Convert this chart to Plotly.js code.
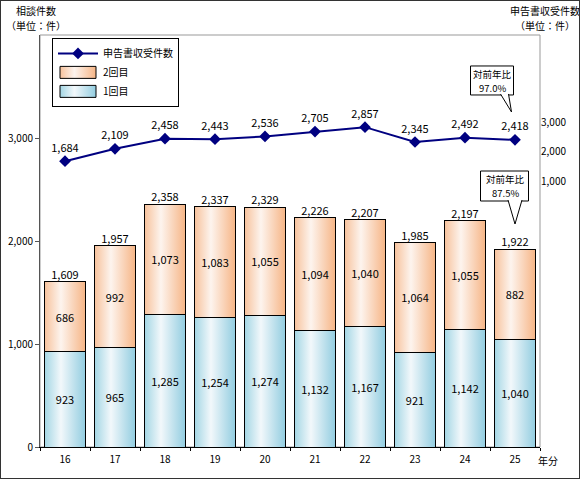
<!DOCTYPE html>
<html><head><meta charset="utf-8">
<script src="https://cdn.plot.ly/plotly-3.0.1.min.js"></script>
<style>
html,body{margin:0;padding:0;background:#fff;}
#chart{width:578px;height:477px;border:1px solid #333;}
</style></head>
<body><div id="chart"></div>
<script>
const years = ['16','17','18','19','20','21','22','23','24','25'];
const first = [923, 965, 1285, 1254, 1274, 1132, 1167, 921, 1142, 1040];
const second = [686, 992, 1073, 1083, 1055, 1094, 1040, 1064, 1055, 882];
const totals = [1609, 1957, 2358, 2337, 2329, 2226, 2207, 1985, 2197, 1922];
const filings = [1684, 2109, 2458, 2443, 2536, 2705, 2857, 2345, 2492, 2418];
const leftTicks = [0, 1000, 2000, 3000];
const rightTicks = [1000, 2000, 3000];

const F = 'Noto Sans CJK JP, DejaVu Sans, sans-serif';

const traces = [
  {type:'bar', name:'1回目', x:years, y:first, marker:{color:'#b5dfea', line:{color:'#000', width:1}},
   text:first, texttemplate:'%{y:,}', textposition:'inside', insidetextanchor:'middle', textangle:0,
   constraintext:'none', textfont:{family:F, size:11, color:'#000'}, hoverinfo:'skip'},
  {type:'bar', name:'2回目', x:years, y:second, marker:{color:'#f9cfae', line:{color:'#000', width:1}},
   text:second, texttemplate:'%{y:,}', textposition:'inside', insidetextanchor:'middle', textangle:0,
   constraintext:'none', textfont:{family:F, size:11, color:'#000'}, hoverinfo:'skip'},
  {type:'scatter', mode:'text', x:years, y:totals, text:totals, texttemplate:'%{y:,}',
   textposition:'top center', textfont:{family:F, size:11, color:'#000'}, showlegend:false, hoverinfo:'skip'},
  {type:'scatter', mode:'lines+markers+text', name:'申告書収受件数', x:years, y:filings, yaxis:'y2',
   line:{color:'#000080', width:2}, marker:{symbol:'diamond', size:9, color:'#000080'},
   text:filings, texttemplate:'%{y:,}', textposition:'top center', textfont:{family:F, size:11, color:'#000'},
   hoverinfo:'skip'}
];

const pix = {xsizemode:'pixel', ysizemode:'pixel', line:{color:'#000', width:1}, fillcolor:'#fff', layer:'above'};
const note = {showarrow:false, xanchor:'center', yanchor:'middle', font:{family:F, size:9.5}};

const layout = {
  width:578, height:477,
  margin:{l:39, r:39, t:34, b:31},
  paper_bgcolor:'#fff', plot_bgcolor:'#fff',
  font:{family:F, size:10, color:'#000'},
  barmode:'stack', bargap:0.18,
  showlegend:true,
  legend:{x:0.024, y:0.993, xanchor:'left', yanchor:'top', bordercolor:'#000', borderwidth:1,
          bgcolor:'#fff', traceorder:'reversed', font:{family:F, size:10}, itemwidth:40,
          tracegroupgap:0},
  xaxis:{type:'category', range:[-0.5, 9.5], showline:true, linecolor:'#000', linewidth:1, ticks:'outside', ticklen:3,
         tickson:'boundaries', tickcolor:'#000', showgrid:false, tickangle:0, ticklabelstandoff:3,
         tickfont:{family:F, size:10}, fixedrange:true},
  yaxis:{range:[0,4000], tickvals:leftTicks, tickformat:',', showline:true, linecolor:'#555', linewidth:1,
         ticks:'outside', ticklen:4, tickcolor:'#555', showgrid:false, zeroline:false, tickfont:{family:F, size:10}},
  yaxis2:{overlaying:'y', side:'right', range:[-8172, 6034], tickvals:rightTicks, tickformat:',',
          showline:false, showgrid:false, zeroline:false, ticks:'', tickfont:{family:F, size:10}},
  shapes:[
    {type:'rect', xref:'paper', yref:'paper', x0:0, x1:1, y0:0, y1:1, line:{color:'#999', width:1}, layer:'below'},
    Object.assign({type:'rect', xref:'x', yref:'y2', xanchor:9, yanchor:3380, x0:-44.5, x1:-1.5, y0:17, y1:46}, pix),
    Object.assign({type:'path', xref:'x', yref:'y2', xanchor:9, yanchor:3380, path:'M-14.5,18 L-3.5,0 L-6.5,18'}, pix),
    Object.assign({type:'rect', xref:'x', yref:'y', xanchor:9, yanchor:2165, x0:-34.5, x1:13.5, y0:23, y1:53}, pix),
    Object.assign({type:'path', xref:'x', yref:'y', xanchor:9, yanchor:2165, path:'M-7,24 L0,0 L7,24'}, pix)
  ],
  annotations:[
    {xref:'paper', yref:'paper', x:-0.008, y:1.059, xanchor:'center', yanchor:'middle', showarrow:false,
     text:'相談件数', font:{family:F, size:10}},
    {xref:'paper', yref:'paper', x:-0.008, y:1.024, xanchor:'center', yanchor:'middle', showarrow:false,
     text:'（単位：件）', font:{family:F, size:10}},
    {xref:'paper', yref:'paper', x:1.01, y:1.059, xanchor:'center', yanchor:'middle', showarrow:false,
     text:'申告書収受件数', font:{family:F, size:10}},
    {xref:'paper', yref:'paper', x:1.01, y:1.024, xanchor:'center', yanchor:'middle', showarrow:false,
     text:'（単位：件）', font:{family:F, size:10}},
    {xref:'paper', yref:'paper', x:1.016, y:-0.032, xanchor:'center', yanchor:'middle', showarrow:false,
     text:'年分', font:{family:F, size:10}},
    Object.assign({xref:'x', yref:'y2', x:9, y:3380, xshift:-23, yshift:38, text:'対前年比'}, note),
    Object.assign({xref:'x', yref:'y2', x:9, y:3380, xshift:-23, yshift:24, text:'97.0%'}, note),
    Object.assign({xref:'x', yref:'y', x:9, y:2165, xshift:-10, yshift:45, text:'対前年比'}, note),
    Object.assign({xref:'x', yref:'y', x:9, y:2165, xshift:-10, yshift:31, text:'87.5%'}, note)
  ]
};

function addGradients(gd){
  const svg = gd.querySelector('svg.main-svg');
  const NS = 'http://www.w3.org/2000/svg';
  let defs = svg.querySelector('defs');
  if(!defs){ defs = document.createElementNS(NS,'defs'); svg.insertBefore(defs, svg.firstChild); }
  const mk = (id, stops) => {
    const g = document.createElementNS(NS,'linearGradient');
    g.setAttribute('id', id); g.setAttribute('x1','0'); g.setAttribute('x2','1'); g.setAttribute('y1','0'); g.setAttribute('y2','0');
    stops.forEach(([o,c]) => { const s=document.createElementNS(NS,'stop'); s.setAttribute('offset',o); s.setAttribute('stop-color',c); g.appendChild(s); });
    defs.appendChild(g);
  };
  mk('gBlue', [['0','#a3d6e4'],['0.4','#f2f8fb'],['1','#92cde0']]);
  mk('gOrange', [['0','#f7c29c'],['0.4','#fdf4ee'],['1','#f6b586']]);
  const bars = gd.querySelectorAll('.barlayer .trace');
  bars.forEach((t,i) => {
    t.querySelectorAll('.point path').forEach(p => p.style.fill = i===0 ? 'url(#gBlue)' : 'url(#gOrange)');
  });
  const legItems = gd.querySelectorAll('.legend .traces');
  legItems.forEach(it => {
    const name = it.textContent;
    it.querySelectorAll('.legendpoints path').forEach(p => {
      const isBlue = name.indexOf('1回目')>=0, isOr = name.indexOf('2回目')>=0;
      if(isBlue || isOr){
        p.setAttribute('d','M-18,-6H18V6H-18Z');
        p.style.fill = isBlue ? 'url(#gBlue)' : 'url(#gOrange)';
        p.style.stroke = '#000'; p.style.strokeWidth = '1px';
      }
    });
  });
}

Plotly.newPlot('chart', traces, layout, {displayModeBar:false, staticPlot:true}).then(addGradients);
</script></body></html>
